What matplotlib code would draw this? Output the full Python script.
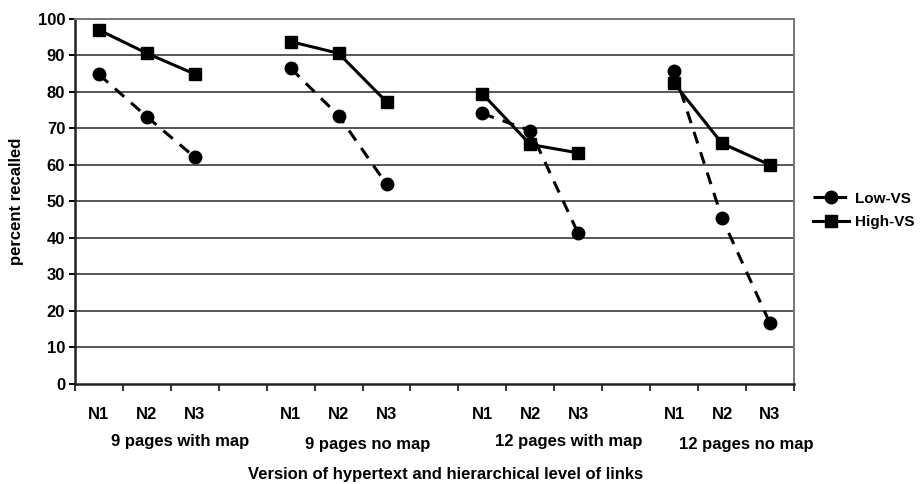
import numpy as np
import matplotlib
matplotlib.use('Agg')
import matplotlib.pyplot as plt
import matplotlib.transforms as mtransforms

plt.rcParams['font.family'] = 'Liberation Sans'
plt.rcParams['font.weight'] = 'bold'
plt.rcParams['axes.labelweight'] = 'bold'

# ===================== data =====================
levels = ['N1', 'N2', 'N3']
groups = ['9 pages with map', '9 pages no map', '12 pages with map', '12 pages no map']
low_vs = [84.8, 73.2, 62.1, 86.5, 73.5, 54.7, 74.1, 69.4, 41.2, 85.8, 45.4, 16.6]
high_vs = [97.0, 90.6, 84.9, 93.8, 90.6, 77.3, 79.5, 65.6, 63.3, 82.4, 65.9, 60.0]

# 15 category slots: 3 levels + one empty slot between groups
n_slots = len(groups) * (len(levels) + 1) - 1
pos = [g * (len(levels) + 1) + i for g in range(len(groups)) for i in range(len(levels))]

low_full = np.full(n_slots, np.nan)
high_full = np.full(n_slots, np.nan)
low_full[pos] = low_vs
high_full[pos] = high_vs
x = np.arange(n_slots)

# ===================== plot =====================
fig = plt.figure(figsize=(9.21, 4.84), dpi=100)
ax = fig.add_axes([0.0814, 0.2072, 0.7806, 0.7535])

for y in range(10, 101, 10):
    ax.axhline(y, color='#555555', lw=1.4, zorder=1)

ax.plot(x, low_full, color='black', lw=2.2, ls=(0, (4, 3)), marker='o', ms=9,
        label='Low-VS', zorder=3)
ax.plot(x, high_full, color='black', lw=2.2, ls='-', marker='s', ms=9,
        label='High-VS', zorder=3)

ax.set_xlim(-0.5, n_slots - 0.5)
ax.set_ylim(0, 100)
ax.set_yticks(range(0, 101, 10))
ax.set_yticklabels([str(v) for v in range(0, 101, 10)], fontweight='bold')
ax.tick_params(axis='y', labelsize=12, length=4, width=1.4, pad=3)

ax.set_xticks(np.arange(-0.5, n_slots, 1.0))
ax.set_xticklabels([])
ax.tick_params(axis='x', which='major', length=5, width=1.4, color='#333333')
ax.set_xticks(pos, minor=True)
ax.set_xticklabels(levels * len(groups), minor=True, fontweight='bold')
ax.tick_params(axis='x', which='minor', length=0, labelsize=12, pad=17)

for s in ['left', 'bottom']:
    ax.spines[s].set_color('#222222')
    ax.spines[s].set_linewidth(1.8)
for s in ['top', 'right']:
    ax.spines[s].set_color('#777777')
    ax.spines[s].set_linewidth(1.4)

trans = mtransforms.blended_transform_factory(ax.transData, ax.transAxes)
label_x = [1.7, 5.6, 9.8, 13.5]
label_y = [-0.158, -0.168, -0.158, -0.168]
for gx, gy, name in zip(label_x, label_y, groups):
    ax.text(gx, gy, name, transform=trans, ha='center', va='center',
            fontsize=12, fontweight='bold')

ax.text(0.515, -0.248, 'Version of hypertext and hierarchical level of links',
        transform=ax.transAxes, ha='center', va='center', fontsize=12,
        fontweight='bold')
ax.set_ylabel('percent recalled', fontsize=12, fontweight='bold', labelpad=10)

ax.legend(loc='center left', bbox_to_anchor=(1.008, 0.475), frameon=False,
          prop={'size': 11, 'weight': 'bold'}, handlelength=2.3,
          handletextpad=0.45, labelspacing=0.65)

fig.savefig('out.png', dpi=100)
